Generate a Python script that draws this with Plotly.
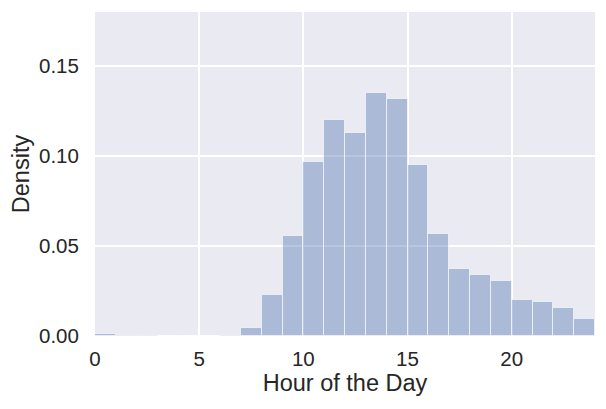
import plotly.graph_objects as go

# histogram bins (hour start) and density per bin
hours = list(range(24))
density = [0.0012, 0.0008, 0.0003, 0.0001, 0.0001, 0.0002, 0.0008, 0.0043,
           0.0228, 0.0556, 0.0967, 0.1200, 0.1128, 0.1352, 0.1317, 0.0952,
           0.0565, 0.0370, 0.0337, 0.0306, 0.0198, 0.0189, 0.0157, 0.0094]
x_ticks = [0, 5, 10, 15, 20]
y_ticks = [0.0, 0.05, 0.10, 0.15]
y_labels = ["0.00", "0.05", "0.10", "0.15"]

fig = go.Figure()
fig.add_trace(go.Bar(
    x=[h + 0.5 for h in hours], y=density, width=1,
    marker=dict(color="rgba(76,114,176,0.4)",
                line=dict(color="rgba(255,255,255,0.6)", width=1)),
    showlegend=False,
))

# page body has an 8px margin, so the plot box is offset to compensate
fig.update_layout(
    width=606, height=409,
    margin=dict(l=87, r=19, t=4, b=81),
    paper_bgcolor="white", plot_bgcolor="#EAEAF2",
    font=dict(family="Liberation Sans, Arial", size=20.5, color="#262626"),
    bargap=0,
)
fig.update_xaxes(range=[0, 24], tickvals=x_ticks, showgrid=True,
                 gridcolor="white", gridwidth=1.5, zeroline=False,
                 ticks="outside", ticklen=4, tickcolor="rgba(0,0,0,0)",
                 automargin=False,
                 title=dict(text="Hour of the Day", font=dict(size=23.5), standoff=0))
fig.update_yaxes(range=[0, 0.18], tickvals=y_ticks, ticktext=y_labels,
                 showgrid=True, gridcolor="white", gridwidth=1.5, zeroline=False,
                 ticks="outside", ticklen=11, tickcolor="rgba(0,0,0,0)",
                 automargin=False,
                 title=dict(text="Density", font=dict(size=23.5), standoff=6))

fig.write_html("out.html")
